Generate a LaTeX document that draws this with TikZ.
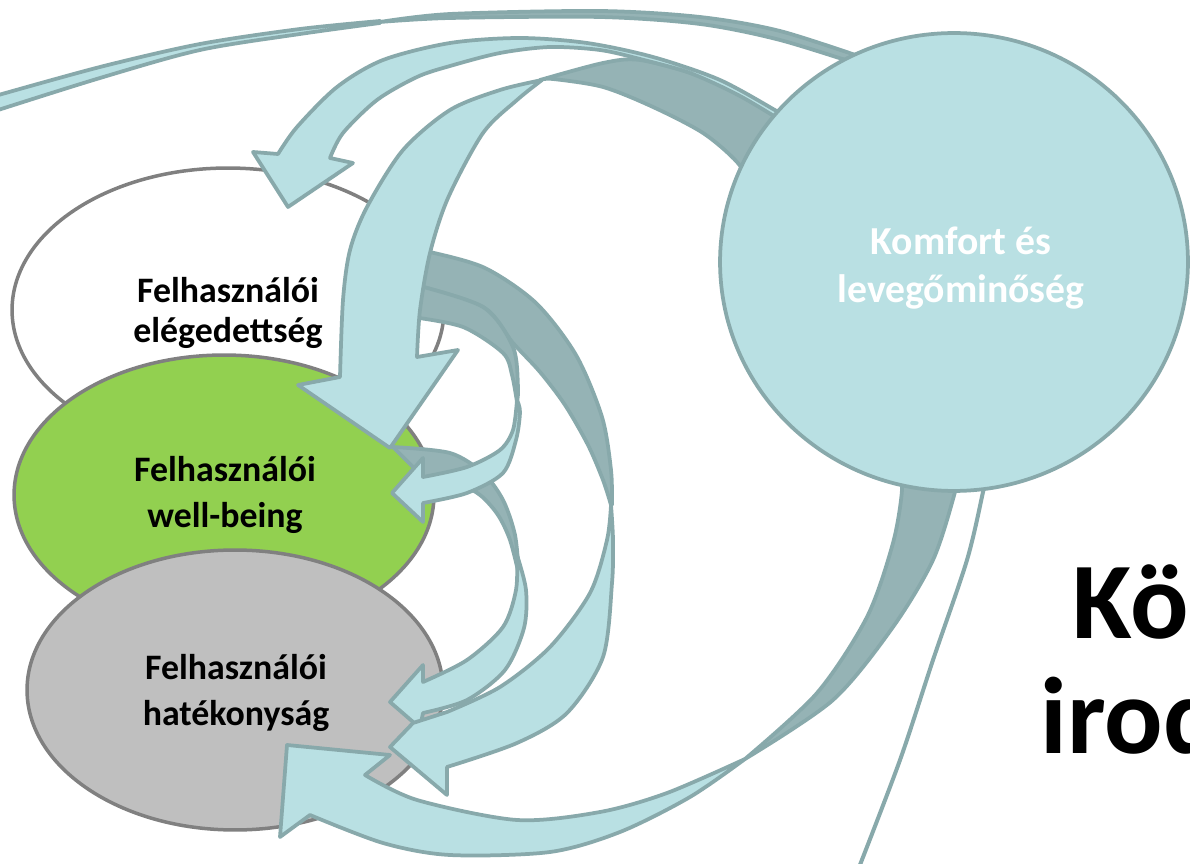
\documentclass[tikz,border=0pt]{standalone}
\usepackage{fontspec}
\setmainfont{Carlito}
\usetikzlibrary{shapes.geometric}
\definecolor{lt}{HTML}{B9E0E3}
\definecolor{dk}{HTML}{95B3B5}
\definecolor{ol}{HTML}{88A9AB}
\definecolor{elo}{HTML}{808080}
\definecolor{grn}{HTML}{92D050}
\definecolor{gry}{HTML}{BFBFBF}
\begin{document}
\begin{tikzpicture}[x=0.02cm,y=-0.02cm,
  ell/.style={ellipse, draw=elo, line width=0.07cm, inner sep=0pt, outer sep=0pt},
  rlt/.style={fill=lt, draw=ol, line width=0.075cm, line join=round},
  rdk/.style={fill=dk, draw=ol, line width=0.075cm, line join=round},
  lbl/.style={align=center, inner sep=0pt, font=\bfseries\fontsize{20.4pt}{22.5pt}\selectfont},
  lblw/.style={align=center, inner sep=0pt, font=\bfseries\fontsize{20.4pt}{26.2pt}\selectfont},
  big/.style={anchor=base west, inner sep=0pt, font=\bfseries\fontsize{62pt}{66pt}\selectfont}]
\useasboundingbox (0,0) rectangle (1190,864);
\clip (0,0) rectangle (1190,864);
\fill[white] (0,0) rectangle (1190,864);

% ellipses
\node[ell, fill=white, minimum width=8.64cm, minimum height=5.68cm] (sat) at (228,310) {};
\node[ell, fill=grn, minimum width=8.4cm, minimum height=5.6cm] (wb) at (224,495) {};
\node[ell, fill=gry, minimum width=8.32cm, minimum height=5.6cm] (eff) at (235,690) {};

% C1 dark
\path[rdk] plot[smooth] coordinates {(412,250)(430,252)(485,268)(536,303)(576,355)(602,417)(611,470)(612,505)}
  -- plot[smooth] coordinates {(611,505)(603,480)(588,445)(565,405)(540,372)(513,343)(483,307)(412,284)} -- cycle;
% C2 dark
\path[rdk] plot[smooth] coordinates {(412,284)(483,307)(513,347)(518,387)(517,402)}
  -- plot[smooth] coordinates {(517,402)(512,375)(503,353)(463,327)(412,317)} -- cycle;
% D dark
\path[rdk] plot[smooth] coordinates {(393,447)(450,453)(483,473)(503,500)(515,535)(519,575)}
  -- plot[smooth] coordinates {(519,575)(510,540)(498,515)(480,495)(455,482)(423,477)} -- cycle;
% E light
\path[rlt] plot[smooth] coordinates {(517,555)(516,590)(503,627)(467,660)(423,682)}
  -- (423,665) -- (390,702) -- (420,728) -- (423,713)
  -- plot[smooth] coordinates {(423,713)(467,700)(505,670)(524,628)(526,590)(517,555)} -- cycle;
% F light
\path[rlt] plot[smooth] coordinates {(611,505)(613,540)(612,583)(603,657)(567,713)(517,743)(447,767)}
  -- (447,795) -- (390,747) -- (413,723) -- (447,712)
  -- plot[smooth] coordinates {(447,712)(500,687)(550,647)(590,593)(607,540)(611,505)} -- cycle;
% W light
\path[rlt] plot[smooth] coordinates {(517,400)(513,430)(500,450)(467,467)(423,477)}
  -- (423,458) -- (392,493) -- (423,522) -- (423,503)
  -- plot[smooth] coordinates {(423,503)(467,493)(503,473)(516,440)(520,412)(517,400)} -- cycle;
% G dark
\path[rdk] plot[smooth] coordinates {(898,470)(902,490)(893,543)(867,617)(817,693)(745,759)}
  -- plot[smooth] coordinates {(745,759)(833,700)(893,627)(933,560)(955,492)(958,470)} -- cycle;
% G light
\path[rlt] plot[smooth] coordinates {(745,759)(667,793)(600,812)(517,820)(417,800)(365,775)}
  -- (390,755) -- (287,745) -- (280,837) -- (310,815)
  -- plot[smooth] coordinates {(310,815)(383,843)(450,855)(550,852)(620,832)(690,797)(745,759)} -- cycle;
% B light
\path[rlt] plot[smooth] coordinates {(542,80)(500,90)(450,110)(403,150)(367,207)(350,250)(343,300)(340,377)}
  -- (298,385) -- (390,448) -- (458,350) -- (417,357)
  -- plot[smooth] coordinates {(417,357)(420,310)(430,253)(448,198)(483,133)(517,100)(542,80)} -- cycle;
% D top dark
\path[rdk] plot[smooth] coordinates {(540,80)(603,63)(640,60)(700,76)(745,98)(790,125)}
  -- (755,190)
  -- plot[smooth] coordinates {(755,190)(737,162)(703,133)(653,107)(603,87)(553,79)(540,80)} -- cycle;
% A light
\path[rlt] plot[smooth] coordinates {(795,122)(780,113)(720,80)(653,57)(587,43)(520,38)(450,43)(383,60)(337,87)(297,127)(278,154)}
  -- (253,152) -- (288,207) -- (353,163) -- (330,158)
  -- plot[smooth] coordinates {(330,158)(343,133)(377,100)(417,77)(450,66)(500,53)(550,47)(600,50)(640,59)(690,73)(740,96)(790,126)} -- cycle;
% T thin band
\path[rlt] plot[smooth] coordinates {(-5,96)(100,67)(200,44)(300,29)(380,21)}
  -- plot[smooth] coordinates {(380,23)(300,34)(200,50)(100,78)(-5,111)} -- cycle;
\path[rdk] plot[smooth] coordinates {(380,22)(450,14)(600,11)(700,17)(780,31)(870,60)}
  -- plot[smooth] coordinates {(870,68)(780,40)(700,24)(600,17)(450,18)(380,22)} -- cycle;
% thin line from circle
\draw[ol, line width=0.08cm] plot[smooth] coordinates {(985,480)(983,492)(967,560)(933,660)(900,760)(858,870)};

% circle
\node[ell, draw=ol, fill=lt, line width=0.075cm, minimum width=9.36cm, minimum height=9.16cm] (kom) at (954,262) {};

% texts
\node[lbl] (satT) at (228,313) {Felhasználói\\elégedettség};
\node[lblw] (wbT) at (225,495) {Felhasználói\\well-being};
\node[lblw] (effT) at (236,693) {Felhasználói\\hatékonyság};
\node[align=center, inner sep=0pt, text=white, font=\bfseries\fontsize{22.6pt}{27.3pt}\selectfont] (komT) at (961,268) {Komfort és\\levegőminőség};
\node[big] (t1) at (1072,638) {Kö};
\node[big] (t2) at (1040,753) {irod};
\end{tikzpicture}
\end{document}
